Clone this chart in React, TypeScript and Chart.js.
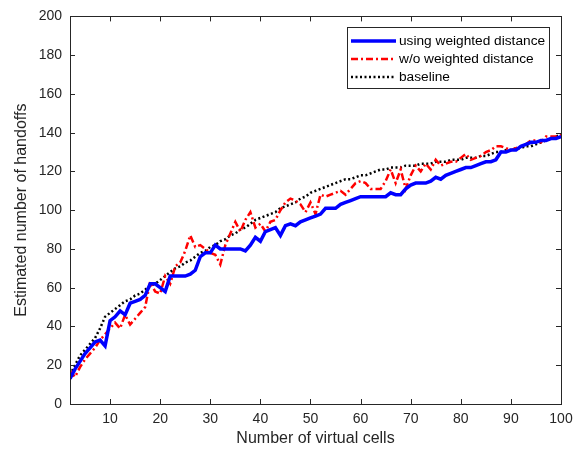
import React, { useEffect, useRef } from "react";
import { Chart, registerables } from "chart.js";

Chart.register(...registerables);

// Number of virtual cells (x) from 2 to 100
const cells: number[] = Array.from({ length: 99 }, (_, i) => i + 2);

const usingWeighted: number[] = [
  13, 18, 22, 26, 29, 32, 33, 30, 43, 45, 48, 46, 52, 53, 54, 56, 62, 62, 60,
  58, 66, 66, 66, 66, 67, 69, 76, 78, 78, 82, 80, 80, 80, 80, 80, 79, 82, 86,
  84, 89, 90, 91, 87, 92, 93, 92, 94, 95, 96, 97, 98, 101, 101, 101, 103, 104,
  105, 106, 107, 107, 107, 107, 107, 107, 109, 108, 108, 111, 113, 114, 114,
  114, 115, 117, 116, 118, 119, 120, 121, 122, 122, 123, 124, 125, 125, 126,
  130, 130, 131, 131, 133, 134, 135, 135, 136, 136, 137, 137, 138,
];

const withoutWeighted: number[] = [
  17, 14, 19, 23, 26, 29, 33, 36, 39, 42, 39, 46, 41, 44, 47, 50, 63, 58, 57,
  66, 62, 71, 73, 79, 87, 81, 82, 80, 78, 77, 72, 82, 88, 94, 89, 95, 99, 91,
  93, 89, 94, 95, 100, 104, 106, 105, 103, 99, 104, 98, 108, 107, 108, 109,
  110, 108, 111, 114, 115, 114, 111, 111, 111, 115, 121, 114, 121, 111, 118,
  123, 120, 124, 121, 126, 123, 124, 125, 125, 127, 129, 126, 127, 128, 130,
  131, 133, 133, 132, 131, 132, 133, 134, 136, 136, 135, 138, 138, 138, 139,
];

const baseline: number[] = [
  15, 20, 25, 28, 31, 34, 39, 45, 47, 49, 51, 53, 54, 56, 57, 59, 61, 62, 64,
  66, 68, 70, 71, 73, 74, 76, 78, 79, 81, 82, 84, 85, 87, 88, 90, 91, 93, 95,
  96, 97, 98, 99, 101, 102, 103, 104, 106, 107, 109, 110, 111, 112, 113, 114,
  115, 116, 116, 117, 118, 118, 119, 120, 121, 121, 122, 122, 122, 123, 123,
  123, 124, 124, 124, 125, 125, 125, 126, 126, 126, 127, 127, 127, 128, 128,
  129, 130, 130, 131, 131, 132, 132, 133, 133, 134, 135, 136, 137, 138, 139,
];

const xTicks: number[] = [10, 20, 30, 40, 50, 60, 70, 80, 90, 100];
const seriesNames: string[] = [
  "using weighted distance",
  "w/o weighted distance",
  "baseline",
];

const FONT = "'Liberation Sans', Arial, Helvetica, sans-serif";
const AXIS_COLOR = "#262626";

const toPoints = (ys: number[]) => ys.map((y, i) => ({ x: cells[i], y }));

// Box around the axes with inward ticks on all four sides, plus a MATLAB-style legend
const axesBoxPlugin = {
  id: "axesBox",
  afterDatasetsDraw(chart: any) {
    const { ctx, chartArea, scales } = chart;
    const { left, right, top, bottom } = chartArea;
    const tickLen = 5;
    ctx.save();
    ctx.strokeStyle = AXIS_COLOR;
    ctx.lineWidth = 1;
    ctx.setLineDash([]);
    ctx.strokeRect(Math.round(left) + 0.5, Math.round(top) + 0.5, Math.round(right - left), Math.round(bottom - top));
    ctx.beginPath();
    for (const t of scales.x.ticks) {
      const px = Math.round(scales.x.getPixelForValue(t.value)) + 0.5;
      ctx.moveTo(px, bottom);
      ctx.lineTo(px, bottom - tickLen);
      ctx.moveTo(px, top);
      ctx.lineTo(px, top + tickLen);
    }
    for (const t of scales.y.ticks) {
      const py = Math.round(scales.y.getPixelForValue(t.value)) + 0.5;
      ctx.moveTo(left, py);
      ctx.lineTo(left + tickLen, py);
      ctx.moveTo(right, py);
      ctx.lineTo(right - tickLen, py);
    }
    ctx.stroke();

    // Legend
    const lx = 347.5, ly = 27.5, lw = 202, lh = 61;
    ctx.fillStyle = "#ffffff";
    ctx.fillRect(lx, ly, lw, lh);
    ctx.strokeStyle = AXIS_COLOR;
    ctx.lineWidth = 1;
    ctx.strokeRect(lx, ly, lw, lh);
    const rows = [41, 59, 77];
    chart.data.datasets.forEach((ds: any, i: number) => {
      const y = rows[i];
      ctx.beginPath();
      ctx.strokeStyle = ds.borderColor;
      ctx.lineWidth = ds.borderWidth;
      ctx.setLineDash(ds.borderDash || []);
      ctx.moveTo(351, y);
      ctx.lineTo(396, y);
      ctx.stroke();
      ctx.setLineDash([]);
      ctx.fillStyle = "#000";
      ctx.font = `13.7px ${FONT}`;
      ctx.textBaseline = "middle";
      ctx.textAlign = "left";
      ctx.fillText(ds.label, 399, y);
    });
    ctx.restore();
  },
};

export default function App() {
  const canvasRef = useRef<HTMLCanvasElement | null>(null);

  useEffect(() => {
    document.body.style.margin = "0";
    const canvas = canvasRef.current;
    if (!canvas) return;
    const chart = new Chart(canvas, {
      type: "line",
      data: {
        datasets: [
          {
            label: seriesNames[0],
            data: toPoints(usingWeighted),
            borderColor: "#0000ff",
            borderWidth: 3.5,
            pointRadius: 0,
            tension: 0,
          },
          {
            label: seriesNames[1],
            data: toPoints(withoutWeighted),
            borderColor: "#ff0000",
            borderWidth: 2.5,
            borderDash: [7, 3, 2, 3],
            pointRadius: 0,
            tension: 0,
          },
          {
            label: seriesNames[2],
            data: toPoints(baseline),
            borderColor: "#000000",
            borderWidth: 2.5,
            borderDash: [2, 2.5],
            pointRadius: 0,
            tension: 0,
          },
        ],
      },
      options: {
        animation: false,
        responsive: false,
        devicePixelRatio: 1,
        layout: { padding: { top: 16, right: 21, left: 0, bottom: 0 } },
        plugins: {
          legend: { display: false },
          tooltip: { enabled: false },
        },
        scales: {
          x: {
            type: "linear",
            min: 2,
            max: 100,
            grid: { display: false, drawTicks: false },
            border: { display: false },
            afterBuildTicks: (scale: any) => {
              scale.ticks = xTicks.map((v) => ({ value: v }));
            },
            afterFit: (scale: any) => {
              scale.height = 47;
            },
            ticks: {
              color: AXIS_COLOR,
              font: { family: FONT, size: 14 },
              padding: 7,
              maxRotation: 0,
              autoSkip: false,
            },
            title: {
              display: true,
              text: "Number of virtual cells",
              color: AXIS_COLOR,
              font: { family: FONT, size: 16 },
              padding: { top: 0, bottom: 3 },
            },
          },
          y: {
            min: 0,
            max: 200,
            grid: { display: false, drawTicks: false },
            border: { display: false },
            afterFit: (scale: any) => {
              scale.width = 70;
            },
            ticks: {
              stepSize: 20,
              color: AXIS_COLOR,
              font: { family: FONT, size: 14 },
              padding: 8,
            },
            title: {
              display: true,
              text: "Estimated number of handoffs",
              color: AXIS_COLOR,
              font: { family: FONT, size: 16 },
              padding: { top: 12, bottom: 0 },
            },
          },
        },
      },
      plugins: [axesBoxPlugin],
    });
    return () => chart.destroy();
  }, []);

  return (
    <div style={{ position: "absolute", left: 0, top: 0, width: 582, height: 451, background: "#fff" }}>
      <canvas ref={canvasRef} width={582} height={451} />
    </div>
  );
}
